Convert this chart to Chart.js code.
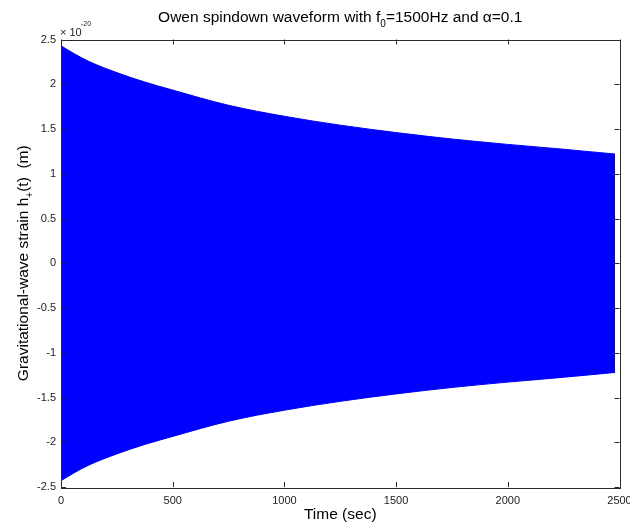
<!DOCTYPE html>
<html>
<head>
<meta charset="utf-8">
<script src="https://cdn.jsdelivr.net/npm/chart.js@4.4.1/dist/chart.umd.min.js"></script>
<style>
  html, body { margin: 0; padding: 0; background: #fff; }
  #wrap { width: 630px; height: 523px; }
</style>
</head>
<body>
<div id="wrap"><canvas id="waveChart" width="630" height="523"></canvas></div>
<script>
// Envelope of the spindown waveform (units of 1e-20)
var timeSec     = [0, 60, 125, 250, 375, 500, 750, 1000, 1250, 1500, 1750, 2000, 2250, 2480];
var upperStrain = [2.43, 2.34, 2.255, 2.13, 2.025, 1.935, 1.765, 1.642, 1.543, 1.46, 1.388, 1.328, 1.274, 1.22];
var lowerStrain = [-2.43, -2.34, -2.255, -2.13, -2.025, -1.935, -1.765, -1.642, -1.543, -1.46, -1.388, -1.328, -1.274, -1.22];
var xTicks = [0, 500, 1000, 1500, 2000, 2500];
var yTicks = [-2.5, -2, -1.5, -1, -0.5, 0, 0.5, 1, 1.5, 2, 2.5];

var FONT = '"Liberation Sans", Arial, Helvetica, sans-serif';
var NARROW = '"Liberation Sans Narrow", "Liberation Sans", Arial, sans-serif';
var INK = '#222';

function toPoints(xs, ys) {
    return xs.map(function(x, i) { return { x: x, y: ys[i] }; });
}

// text pieces in a row: [{t, size, dy}]
function runWidth(ctx, parts) {
    var w = 0;
    parts.forEach(function(p) {
        ctx.font = p.size + 'px ' + FONT;
        w += ctx.measureText(p.t).width;
    });
    return w;
}
function drawRun(ctx, parts, x, y) {
    parts.forEach(function(p) {
        ctx.font = p.size + 'px ' + FONT;
        ctx.fillText(p.t, x, y + (p.dy || 0));
        x += ctx.measureText(p.t).width;
    });
}

var matlabFrame = {
    id: 'matlabFrame',
    afterDraw: function(chart) {
        var ctx = chart.ctx;
        var a = chart.chartArea;
        var xs = chart.scales.x, ys = chart.scales.y;
        ctx.save();
        ctx.strokeStyle = '#2b2b2b';
        ctx.lineWidth = 1;
        ctx.strokeRect(Math.round(a.left) + 0.5, Math.round(a.top) + 0.5,
                       Math.round(a.right - a.left), Math.round(a.bottom - a.top));
        // inward ticks
        ctx.beginPath();
        xTicks.forEach(function(v) {
            var px = Math.round(xs.getPixelForValue(v)) + 0.5;
            ctx.moveTo(px, a.bottom); ctx.lineTo(px, a.bottom - 5);
            ctx.moveTo(px, a.top); ctx.lineTo(px, a.top + 5);
        });
        yTicks.forEach(function(v) {
            var py = Math.round(ys.getPixelForValue(v)) + 0.5;
            ctx.moveTo(a.left, py); ctx.lineTo(a.left + 5, py);
            ctx.moveTo(a.right, py); ctx.lineTo(a.right - 5, py);
        });
        ctx.stroke();

        ctx.fillStyle = '#000';
        ctx.textBaseline = 'alphabetic';
        ctx.textAlign = 'left';
        var cx = (a.left + a.right) / 2;
        var cy = (a.top + a.bottom) / 2;

        // title
        var title = [
            { t: 'Owen spindown waveform with f', size: 15.5 },
            { t: '0', size: 10, dy: 5 },
            { t: '=1500Hz and \u03b1=0.1', size: 15.5 }
        ];
        drawRun(ctx, title, cx - runWidth(ctx, title) / 2, 22);

        // x label
        var xl = [{ t: 'Time (sec)', size: 15.5 }];
        drawRun(ctx, xl, cx - runWidth(ctx, xl) / 2, 519);

        // y label
        var yl = [
            { t: 'Gravitational-wave strain h', size: 15.5 },
            { t: '+', size: 10, dy: 5 },
            { t: '(t)  (m)', size: 15.5 }
        ];
        ctx.save();
        ctx.translate(28, cy);
        ctx.rotate(-Math.PI / 2);
        drawRun(ctx, yl, -runWidth(ctx, yl) / 2, 0);
        ctx.restore();

        // exponent
        ctx.fillStyle = INK;
        drawRun(ctx, [{ t: '\u00d7 10', size: 11 }], 60, 36);
        drawRun(ctx, [{ t: '-20', size: 7 }], 81, 26);
        ctx.restore();
    }
};

var ctx = document.getElementById('waveChart').getContext('2d');
new Chart(ctx, {
    type: 'line',
    data: {
        datasets: [{
            label: 'upper',
            data: toPoints(timeSec, upperStrain),
            borderColor: '#0000ff',
            backgroundColor: '#0000ff',
            borderWidth: 1,
            pointRadius: 0,
            cubicInterpolationMode: 'monotone',
            fill: '+1'
        }, {
            label: 'lower',
            data: toPoints(timeSec, lowerStrain),
            borderColor: '#0000ff',
            backgroundColor: '#0000ff',
            borderWidth: 1,
            pointRadius: 0,
            cubicInterpolationMode: 'monotone',
            fill: false
        }]
    },
    options: {
        responsive: false,
        animation: false,
        layout: {
            padding: { left: 0, right: 10.5, top: 39.5, bottom: 0 }
        },
        scales: {
            x: {
                type: 'linear',
                min: 0,
                max: 2500,
                afterBuildTicks: function(scale) {
                    scale.ticks = xTicks.map(function(v) { return { value: v }; });
                },
                afterFit: function(scale) {
                    scale.height = 36;
                    scale.paddingLeft = 0;
                    scale.paddingRight = 0;
                },
                grid: { display: false, drawTicks: false },
                border: { display: false },
                ticks: {
                    padding: 7,
                    maxRotation: 0,
                    color: INK,
                    font: { family: NARROW, size: 11 },
                    callback: function(v) { return String(v); }
                }
            },
            y: {
                type: 'linear',
                min: -2.5,
                max: 2.5,
                afterBuildTicks: function(scale) {
                    scale.ticks = yTicks.map(function(v) { return { value: v }; });
                },
                afterFit: function(scale) {
                    scale.width = 61;
                    scale.paddingTop = 0;
                    scale.paddingBottom = 0;
                },
                grid: { display: false, drawTicks: false },
                border: { display: false },
                ticks: {
                    padding: 5,
                    color: INK,
                    font: { family: NARROW, size: 11 },
                    callback: function(v) { return String(v); }
                }
            }
        },
        plugins: {
            legend: { display: false },
            title: { display: false },
            tooltip: { enabled: false }
        }
    },
    plugins: [matlabFrame]
});
</script>
</body>
</html>
